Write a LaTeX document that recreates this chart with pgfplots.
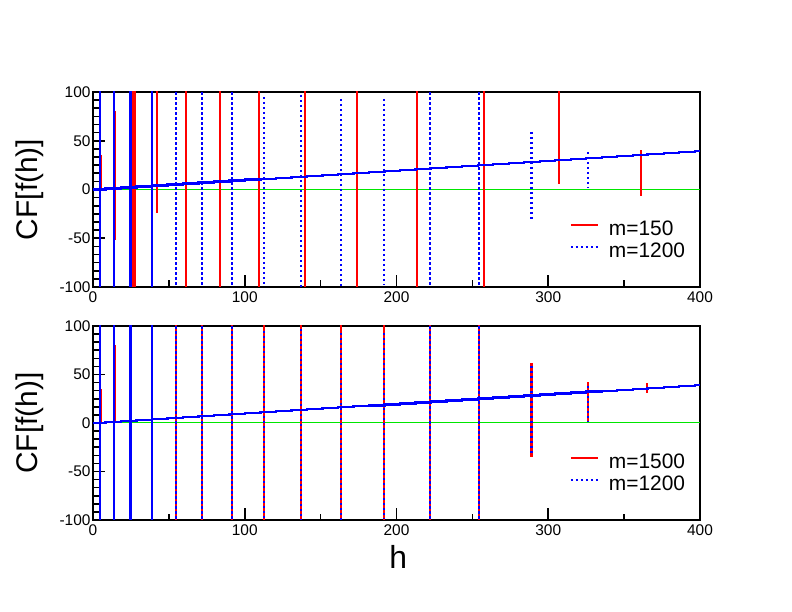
\documentclass[border=0pt]{standalone}
\usepackage{fontspec}
\setmainfont{Liberation Sans}
\usepackage{pgfplots}
\usepackage{pgfplotstable}
\pgfplotsset{compat=1.18}
\definecolor{zgreen}{RGB}{0,230,0}
\definecolor{pred}{RGB}{255,0,0}
\definecolor{pblue}{RGB}{0,0,255}

\pgfplotstableread{
h v
0 0
8.2 1.01
18.42 2.02
28.64 3.03
38.86 4.04
49.08 5.05
59.3 6.06
69.52 7.07
79.74 8.08
89.96 9.09
100.18 10.1
110.4 11.11
120.62 12.12
130.84 13.13
141.06 14.14
151.28 15.15
161.5 16.16
171.72 17.17
181.94 18.18
192.16 19.19
202.38 20.2
212.6 21.21
222.82 22.22
233.04 23.23
243.26 24.24
253.48 25.25
263.7 26.26
273.92 27.27
284.14 28.28
294.36 29.29
304.58 30.3
314.8 31.31
325.02 32.32
335.24 33.33
345.46 34.34
355.68 35.35
365.9 36.36
376.12 37.37
386.34 38.38
396.56 39.39
400 39.39
}\stairs

\pgfplotsset{
  cfpanel/.style={
    scale only axis, width=607bp, anchor=south west,
    xmin=0, xmax=400, ymin=-100, ymax=100,
    xtick={0,100,200,300,400}, xticklabels={0,100,200,300,400},
    ytick={-100,-50,0,50,100}, yticklabels={-100,-50,0,50,100},
    minor x tick num=1, minor y tick num=5,
    xtick pos=left, ytick pos=left, tick align=inside,
    major tick length=12bp, minor tick length=6.5bp,
    every tick/.style={black, line width=1.6bp},
    axis line style={line width=2.2bp},
    ticklabel style={font=\fontsize{15.5}{15.5}\selectfont},
    yticklabel style={xshift=1bp},
    xticklabel style={yshift=-1bp},
    ylabel={CF[f(h)]},
    ylabel style={at={(axis description cs:-0.104,0.5)}, anchor=center, font=\fontsize{30}{30}\selectfont},
    unbounded coords=jump,
    legend style={draw=none, fill=none, at={(axis cs:312,-51.3)}, anchor=west,
      font=\fontsize{21}{21}\selectfont, row sep=4bp, column sep=7bp,
      nodes={inner ysep=1bp, inner xsep=3bp}},
    legend cell align=left,
    legend image code/.code={\draw[#1] (0bp,0.35em) -- (27bp,0.35em);},
  },
  stair/.style={const plot, line width=2.3bp},
  spike/.style={line width=2.3bp},
  dots/.style={dash pattern=on 2.5bp off 2.5bp},
}

\begin{document}
\begin{tikzpicture}
\useasboundingbox (0,0) rectangle (792bp,612bp);

% ---------------- top panel ----------------
\begin{axis}[cfpanel, height=195bp, at={(93bp,325bp)}]
\addplot[zgreen, line width=1bp, forget plot] coordinates {(0,0) (400,0)};
\addplot[pred, stair, forget plot] table[x=h, y=v] {\stairs};
\addplot[pred, spike] coordinates {
(4.6,110) (4.6,-110) (4.6,nan)
(5.2,35) (5.2,0) (5.2,nan)
(14.4,80) (14.4,-52) (14.4,nan)
(26.0,110) (26.0,-110) (26.0,nan)
(27.6,110) (27.6,-110) (27.6,nan)
(42.0,110) (42.0,-24) (42.0,nan)
(61.3,110) (61.3,-110) (61.3,nan)
(83.7,110) (83.7,-110) (83.7,nan)
(109.6,110) (109.6,-110) (109.6,nan)
(139.7,110) (139.7,-110) (139.7,nan)
(174.2,110) (174.2,-110) (174.2,nan)
(213.3,110) (213.3,-110) (213.3,nan)
(257.5,110) (257.5,-110) (257.5,nan)
(306.9,110) (306.9,5.5) (306.9,nan)
(361.0,40) (361.0,-6.5)
};
\addlegendentry{m=150}
\addplot[pblue, stair, forget plot] table[x=h, y=v] {\stairs};
\addplot[pblue, spike, forget plot] coordinates {
(4.6,110) (4.6,-110) (4.6,nan)
(13.8,110) (13.8,-110) (13.8,nan)
(24.8,110) (24.8,-110) (24.8,nan)
(38.9,110) (38.9,-110)
};
\addplot[pblue, spike, dots] coordinates {
(54.5,110) (54.5,-110) (54.5,nan)
(71.6,110) (71.6,-110) (71.6,nan)
(91.8,110) (91.8,-110) (91.8,nan)
(112.9,95) (112.9,-110) (112.9,nan)
(137.0,97) (137.0,-110) (137.0,nan)
(163.4,93) (163.4,-110) (163.4,nan)
(191.8,93) (191.8,-98) (191.8,nan)
(222.0,110) (222.0,-110) (222.0,nan)
(254.4,110) (254.4,-110) (254.4,nan)
(289.0,59) (289.0,-33) (289.0,nan)
(326.0,38.5) (326.0,1.6) (326.0,nan)
(364.9,37.5) (364.9,32.4)
};
\addlegendentry{m=1200}
\end{axis}

% ---------------- bottom panel ----------------
\begin{axis}[cfpanel, height=194bp, at={(93bp,92bp)},
  xlabel={h},
  xlabel style={at={(axis description cs:0.503,-0.19)}, anchor=center, font=\fontsize{32}{32}\selectfont}]
\addplot[zgreen, line width=1bp, forget plot] coordinates {(0,0) (400,0)};
\addplot[pred, stair, forget plot] table[x=h, y=v] {\stairs};
\addplot[pred, spike] coordinates {
(4.6,110) (4.6,-110) (4.6,nan)
(5.1,35) (5.1,0) (5.1,nan)
(14.2,80) (14.2,0) (14.2,nan)
(24.8,110) (24.8,-110) (24.8,nan)
(38.9,110) (38.9,-110) (38.9,nan)
(54.5,110) (54.5,-110) (54.5,nan)
(71.6,110) (71.6,-110) (71.6,nan)
(91.8,110) (91.8,-110) (91.8,nan)
(112.9,110) (112.9,-110) (112.9,nan)
(137.0,110) (137.0,-110) (137.0,nan)
(163.4,110) (163.4,-110) (163.4,nan)
(191.8,110) (191.8,-110) (191.8,nan)
(222.0,110) (222.0,-110) (222.0,nan)
(254.4,110) (254.4,-110) (254.4,nan)
(289.0,61.5) (289.0,-34.7) (289.0,nan)
(326.0,42) (326.0,2) (326.0,nan)
(364.9,41) (364.9,30.6)
};
\addlegendentry{m=1500}
\addplot[pblue, stair, forget plot] table[x=h, y=v] {\stairs};
\addplot[pblue, spike, forget plot] coordinates {
(4.6,110) (4.6,-110) (4.6,nan)
(13.8,110) (13.8,-110) (13.8,nan)
(24.8,110) (24.8,-110) (24.8,nan)
(38.9,110) (38.9,-110)
};
\addplot[pblue, spike, dots] coordinates {
(54.5,110) (54.5,-110) (54.5,nan)
(71.6,110) (71.6,-110) (71.6,nan)
(91.8,110) (91.8,-110) (91.8,nan)
(112.9,95) (112.9,-110) (112.9,nan)
(137.0,97) (137.0,-110) (137.0,nan)
(163.4,93) (163.4,-110) (163.4,nan)
(191.8,93) (191.8,-98) (191.8,nan)
(222.0,110) (222.0,-110) (222.0,nan)
(254.4,110) (254.4,-110) (254.4,nan)
(289.0,59) (289.0,-33) (289.0,nan)
(326.0,38.5) (326.0,1.6) (326.0,nan)
(364.9,37.5) (364.9,32.4)
};
\addlegendentry{m=1200}
\end{axis}
\end{tikzpicture}
\end{document}
